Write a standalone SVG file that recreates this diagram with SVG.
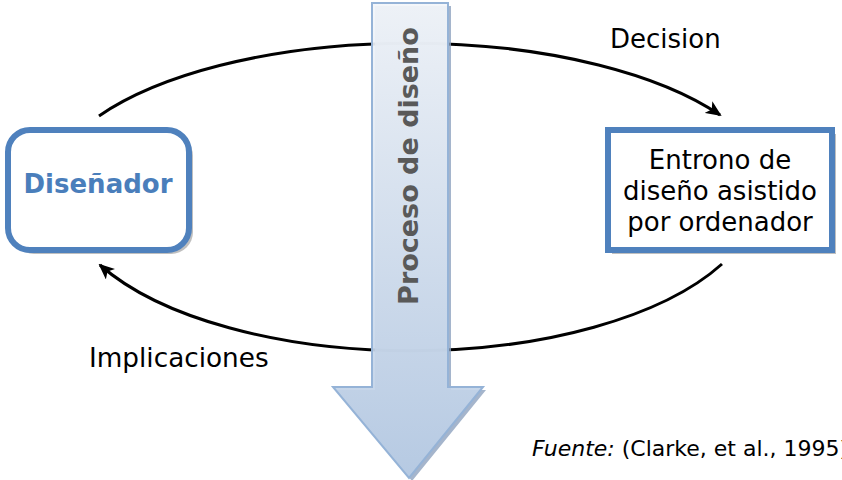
<svg xmlns="http://www.w3.org/2000/svg" width="842" height="480" viewBox="0 0 842 480">
<style>
.lbl{font-family:"DejaVu Sans","Verdana",sans-serif;fill:#000;}
.box{fill:#fff;stroke:#4f81bd;stroke-width:6;}
.shadow{fill:#bfbfbf;}
.conn{fill:none;stroke:#000;stroke-width:3;}
</style>
<defs>
<linearGradient id="ag" x1="0" y1="0" x2="0" y2="1">
<stop offset="0" stop-color="#f3f6fa"/>
<stop offset="1" stop-color="#b7cbe4"/>
</linearGradient>
<marker id="ah" viewBox="0 0 16 14" refX="14" refY="7" markerWidth="16" markerHeight="14" markerUnits="userSpaceOnUse" orient="auto">
<path d="M0,0 L16,7 L0,14 L4,7 Z" fill="#000"/>
</marker>
</defs>
<rect width="842" height="480" fill="#fff"/>
<g id="connectors">
<path class="conn" d="M99,116 A363,150 0 0 1 720,115" marker-end="url(#ah)"/>
<path class="conn" d="M722,264 A349,158 0 0 1 100,265" marker-end="url(#ah)"/>
</g>
<g id="disenador">
<rect class="shadow" x="12" y="134" width="181" height="120" rx="22"/>
<rect class="box" x="8" y="130" width="181" height="120" rx="22"/>
<text x="98" y="193" text-anchor="middle" font-family="DejaVu Sans, Verdana, sans-serif" font-weight="bold" font-size="26" fill="#4a7ebb">Diseñador</text>
</g>
<g id="entorno">
<rect class="shadow" x="612" y="134" width="224" height="120"/>
<rect class="box" x="608" y="130" width="224" height="120"/>
<text class="lbl" font-size="26" text-anchor="middle"><tspan x="720" y="169">Entrono de</tspan><tspan x="720" y="200">diseño asistido</tspan><tspan x="720" y="231">por ordenador</tspan></text>
</g>
<g id="proceso">
<path d="M375,6 H451 V390 H486 L412,481 L336,390 H375 Z" fill="#8ea3bf" opacity="0.8"/>
<path d="M372,3 H448 V387 H483 L409,478 L333,387 H372 Z" fill="url(#ag)" fill-opacity="0.93" stroke="#95b3d7" stroke-width="2"/>
<text transform="translate(418,166) rotate(-90)" text-anchor="middle" font-family="DejaVu Sans, Verdana, sans-serif" font-weight="bold" font-size="27" fill="#595959">Proceso de diseño</text>
</g>
<g id="labels">
<text class="lbl" x="610" y="48" font-size="26">Decision</text>
<text class="lbl" x="89" y="367" font-size="26.3">Implicaciones</text>
<text class="lbl" x="532" y="456" font-size="22"><tspan font-style="italic">Fuente:</tspan> (Clarke, et al., 1995)</text>
</g>
</svg>
